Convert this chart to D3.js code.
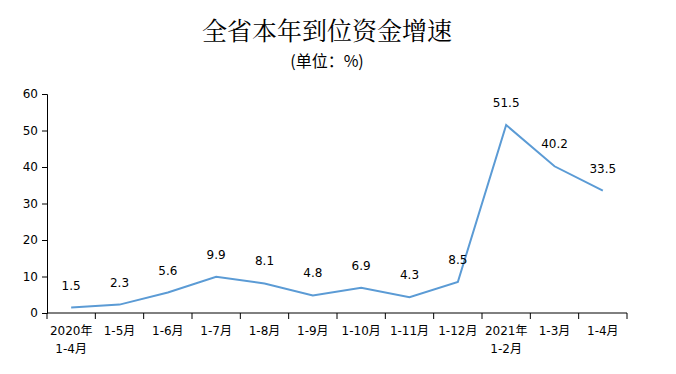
<!DOCTYPE html>
<html>
<head>
<meta charset="utf-8">
<script src="https://cdn.jsdelivr.net/npm/d3@7"></script>
<style>
body { margin: 0; background: #fff; }
text { font-family: "DejaVu Sans", "Noto Sans CJK SC", sans-serif; fill: #000; }
</style>
</head>
<body>
<div id="vis"></div>
<script>
// categories, line 1 and line 2 of each x label
var categories = ["2020年1-4月", "1-5月", "1-6月", "1-7月", "1-8月", "1-9月", "1-10月", "1-11月", "1-12月", "2021年1-2月", "1-3月", "1-4月"];
var labelLine1 = ["2020年", "1-5月", "1-6月", "1-7月", "1-8月", "1-9月", "1-10月", "1-11月", "1-12月", "2021年", "1-3月", "1-4月"];
var labelLine2 = ["1-4月", "", "", "", "", "", "", "", "", "1-2月", "", ""];
var values = [1.5, 2.3, 5.6, 9.9, 8.1, 4.8, 6.9, 4.3, 8.5, 51.5, 40.2, 33.5];
var yTicks = [0, 10, 20, 30, 40, 50, 60];

var W = 676, H = 374;
var margin = {top: 94, right: 49, bottom: 61, left: 47};

var svg = d3.select("#vis").append("svg")
    .attr("width", W)
    .attr("height", H);

// title
svg.append("text")
    .attr("x", 327).attr("y", 40)
    .attr("text-anchor", "middle")
    .style("font-family", "'Noto Serif CJK SC', 'Noto Sans CJK SC', serif")
    .style("font-size", "25px")
    .text("全省本年到位资金增速");

svg.append("text")
    .attr("x", 327).attr("y", 67)
    .attr("text-anchor", "middle")
    .style("font-family", "'Noto Sans CJK SC', sans-serif")
    .style("font-size", "16px")
    .text("(单位：%)");

var x = d3.scaleBand()
    .domain(categories)
    .range([margin.left, W - margin.right]);

var y = d3.scaleLinear()
    .domain([0, 60])
    .range([H - margin.bottom, margin.top]);

// y axis
var yAxis = svg.append("g")
    .attr("transform", "translate(" + margin.left + ",0)")
    .call(d3.axisLeft(y).tickValues(yTicks).tickSize(5).tickPadding(4));
yAxis.selectAll("text").style("font-size", "12px").style("font-family", "'DejaVu Sans', sans-serif");
yAxis.selectAll("path, line").attr("stroke", "#000");

// x axis, ticks hang below
var xAxis = svg.append("g")
    .attr("transform", "translate(0," + y(0) + ")");
xAxis.append("line")
    .attr("x1", margin.left).attr("x2", W - margin.right)
    .attr("stroke", "#000");
var edges = categories.map(function(c) { return x(c); }).concat([x.range()[1]]);
xAxis.selectAll(".tk")
    .data(edges)
    .enter().append("line")
    .attr("class", "tk")
    .attr("x1", function(d) { return d; })
    .attr("x2", function(d) { return d; })
    .attr("y1", 0).attr("y2", 6)
    .attr("stroke", "#000");
xAxis.selectAll(".l1")
    .data(categories)
    .enter().append("text")
    .attr("class", "l1")
    .attr("x", function(d) { return x(d) + x.bandwidth() / 2; })
    .attr("y", 22)
    .attr("text-anchor", "middle")
    .style("font-size", "12px")
    .text(function(d, i) { return labelLine1[i]; });
xAxis.selectAll(".l2")
    .data(categories)
    .enter().append("text")
    .attr("class", "l2")
    .attr("x", function(d) { return x(d) + x.bandwidth() / 2; })
    .attr("y", 40)
    .attr("text-anchor", "middle")
    .style("font-size", "12px")
    .text(function(d, i) { return labelLine2[i]; });

// line
var line = d3.line()
    .x(function(d, i) { return x(categories[i]) + x.bandwidth() / 2; })
    .y(function(d) { return y(d); });

svg.append("path")
    .datum(values)
    .attr("d", line)
    .attr("fill", "none")
    .attr("stroke", "#5b9bd5")
    .attr("stroke-width", 2);

// data labels
svg.selectAll(".dl")
    .data(values)
    .enter().append("text")
    .attr("class", "dl")
    .attr("x", function(d, i) { return x(categories[i]) + x.bandwidth() / 2; })
    .attr("y", function(d) { return y(d) - 18; })
    .attr("text-anchor", "middle")
    .style("font-size", "12px")
    .text(function(d) { return d.toFixed(1); });
</script>
</body>
</html>
